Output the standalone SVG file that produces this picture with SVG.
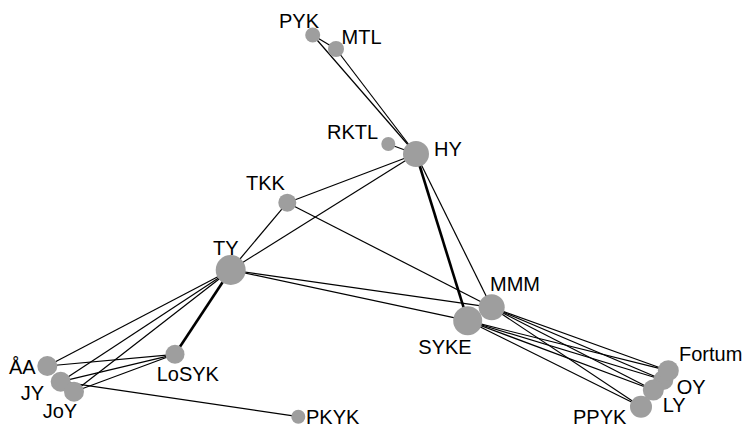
<svg xmlns="http://www.w3.org/2000/svg" width="748" height="432" viewBox="0 0 748 432">
<style>
.e{stroke:#000;stroke-width:1.2;fill:none}
.t{stroke-width:2.6}
.n circle{fill:#9e9e9e}
text{font-family:"Liberation Sans",Arial,sans-serif;font-size:20px;fill:#000}
</style>
<rect width="748" height="432" fill="#fff"/>
<g id="edges">
<line class="e" x1="312.7" y1="35" x2="336" y2="49"/>
<line class="e" x1="312.7" y1="35" x2="416" y2="154"/>
<line class="e" x1="336" y1="49" x2="416" y2="154"/>
<line class="e" x1="388.3" y1="144" x2="416" y2="154"/>
<line class="e" x1="416" y1="154" x2="287.3" y2="202.7"/>
<line class="e" x1="416" y1="154" x2="230.7" y2="270"/>
<line class="e t" x1="416" y1="154" x2="467.7" y2="320.7"/>
<line class="e" x1="416" y1="154" x2="491.7" y2="307.3"/>
<line class="e" x1="287.3" y1="202.7" x2="230.7" y2="270"/>
<line class="e" x1="287.3" y1="202.7" x2="491.7" y2="307.3"/>
<line class="e" x1="230.7" y1="270" x2="491.7" y2="307.3"/>
<line class="e" x1="230.7" y1="270" x2="467.7" y2="320.7"/>
<line class="e" x1="230.7" y1="270" x2="47.3" y2="366"/>
<line class="e" x1="230.7" y1="270" x2="60.7" y2="381.7"/>
<line class="e" x1="230.7" y1="270" x2="74" y2="391.7"/>
<line class="e t" x1="230.7" y1="270" x2="175" y2="354.3"/>
<line class="e" x1="175" y1="354.3" x2="47.3" y2="366"/>
<line class="e" x1="175" y1="354.3" x2="60.7" y2="381.7"/>
<line class="e" x1="175" y1="354.3" x2="74" y2="391.7"/>
<line class="e" x1="60.7" y1="381.7" x2="298.3" y2="416.7"/>
<line class="e" x1="491.7" y1="307.3" x2="668.3" y2="370.7"/>
<line class="e" x1="491.7" y1="307.3" x2="663.3" y2="380"/>
<line class="e" x1="491.7" y1="307.3" x2="653.3" y2="390"/>
<line class="e" x1="491.7" y1="307.3" x2="641" y2="406.7"/>
<line class="e" x1="467.7" y1="320.7" x2="668.3" y2="370.7"/>
<line class="e" x1="467.7" y1="320.7" x2="663.3" y2="380"/>
<line class="e" x1="467.7" y1="320.7" x2="653.3" y2="390"/>
<line class="e" x1="467.7" y1="320.7" x2="641" y2="406.7"/>
</g>
<g id="PYK" class="n"><circle cx="312.7" cy="35" r="7.5"/><text x="279" y="28">PYK</text></g>
<g id="MTL" class="n"><circle cx="336" cy="49" r="8"/><text x="341.5" y="44.3">MTL</text></g>
<g id="RKTL" class="n"><circle cx="388.3" cy="144" r="7"/><text x="327" y="139.3">RKTL</text></g>
<g id="HY" class="n"><circle cx="416" cy="154" r="13"/><text x="434" y="156">HY</text></g>
<g id="TKK" class="n"><circle cx="287.3" cy="202.7" r="9"/><text x="246" y="190">TKK</text></g>
<g id="TY" class="n"><circle cx="230.7" cy="270" r="15"/><text x="213" y="255">TY</text></g>
<g id="OY" class="n"><circle cx="663.3" cy="380" r="10"/><text x="676.7" y="394">OY</text></g>
<g id="LY" class="n"><circle cx="653.3" cy="390" r="10.5"/><text x="662.7" y="411.7">LY</text></g>
<g id="PPYK" class="n"><circle cx="641" cy="406.7" r="11"/><text x="573" y="424">PPYK</text></g>
<g id="Fortum" class="n"><circle cx="668.3" cy="370.7" r="10.5"/><text x="679" y="361">Fortum</text></g>
<g id="SYKE" class="n"><circle cx="467.7" cy="320.7" r="14.5"/><text x="418.3" y="354.3">SYKE</text></g>
<g id="MMM" class="n"><circle cx="491.7" cy="307.3" r="13"/><text x="490" y="290.7">MMM</text></g>
<g id="AA" class="n"><circle cx="47.3" cy="366" r="10"/><text x="9" y="374">ÅA</text></g>
<g id="JY" class="n"><circle cx="60.7" cy="381.7" r="10"/><text x="20.7" y="400">JY</text></g>
<g id="JoY" class="n"><circle cx="74" cy="391.7" r="10"/><text x="42.7" y="418.3">JoY</text></g>
<g id="LoSYK" class="n"><circle cx="175" cy="354.3" r="9.5"/><text x="156.7" y="380.7">LoSYK</text></g>
<g id="PKYK" class="n"><circle cx="298.3" cy="416.7" r="7"/><text x="306" y="424">PKYK</text></g>
</svg>
